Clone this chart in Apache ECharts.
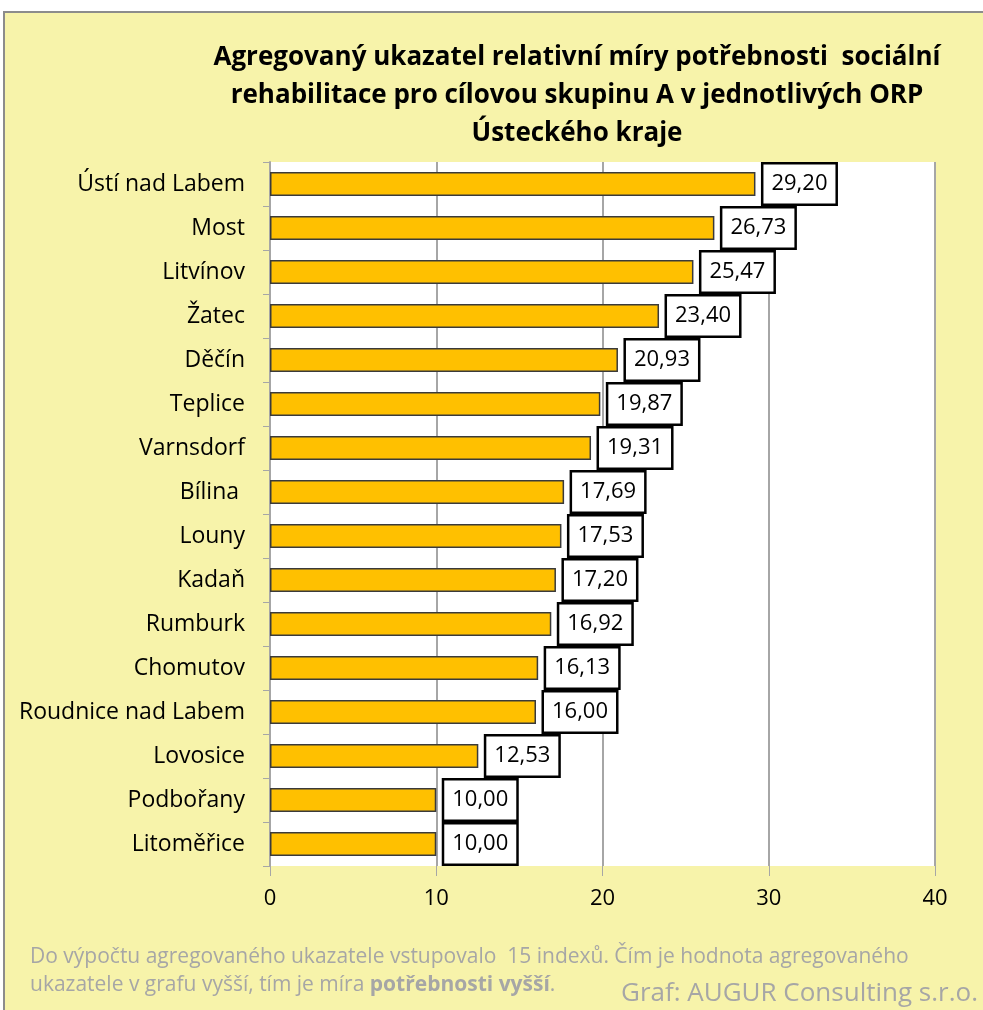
<!DOCTYPE html>
<html>
<head>
<meta charset="utf-8">
<script src="https://cdn.jsdelivr.net/npm/echarts@6/dist/echarts.min.js"></script>
<style>
html,body{margin:0;padding:0;background:#fff;}
#c{width:983px;height:1010px;}
</style>
</head>
<body>
<div id="c"></div>
<script>
const categories = ["Ústí nad Labem","Most","Litvínov","Žatec","Děčín","Teplice","Varnsdorf","Bílina ","Louny","Kadaň","Rumburk","Chomutov","Roudnice nad Labem","Lovosice","Podbořany","Litoměřice"];
const values = [29.20,26.73,25.47,23.40,20.93,19.87,19.31,17.69,17.53,17.20,16.92,16.13,16.00,12.53,10.00,10.00];
const xTicks = [0,10,20,30,40];
const titleText = "Agregovaný ukazatel relativní míry potřebnosti  sociální\nrehabilitace pro cílovou skupinu A v jednotlivých ORP\nÚsteckého kraje";
const noteLine1 = "Do výpočtu agregovaného ukazatele vstupovalo  15 indexů. Čím je hodnota agregovaného";
const noteLine2a = "ukazatele v grafu vyšší, tím je míra ";
const noteLine2b = "potřebnosti vyšší";
const credit = "Graf: AUGUR Consulting s.r.o.";

const FONT = "'Open Sans', Lato, sans-serif";
const chart = echarts.init(document.getElementById('c'), null, {renderer:'canvas'});
chart.setOption({
  backgroundColor: '#ffffff',
  animation: false,
  graphic: [
    {type:'rect', z:-10, shape:{x:4,y:12,width:1100,height:1100}, style:{fill:'#F7F3AA', stroke:'#8c8c8c', lineWidth:2}},
    {type:'text', x:577, y:39, style:{text:titleText, font:"bold 26px "+FONT, fill:'#000', align:'center', verticalAlign:'top', lineHeight:38}},
    {type:'text', x:30, y:943, style:{
      text: noteLine1 + "\n" + noteLine2a + "{b|" + noteLine2b + "}.",
      font:"21px "+FONT, fill:'#A6A6A6', lineHeight:28, verticalAlign:'top',
      rich:{b:{font:"bold 21px "+FONT, fill:'#A6A6A6'}}
    }},
    {type:'text', x:978, y:981, style:{text:credit, font:"26px "+FONT, fill:'#A6A6A6', align:'right', verticalAlign:'top'}}
  ],
  grid: {left:270, right:48, top:162, bottom:144, show:true, backgroundColor:'#ffffff', borderWidth:0, containLabel:false},
  xAxis: {
    type:'value', min:0, max:40, interval:10,
    axisLine:{show:false},
    axisTick:{show:true, length:10, lineStyle:{color:'#A6A6A6', width:1}},
    axisLabel:{color:'#000', fontSize:22, fontFamily:FONT, margin:22,
      formatter: v => xTicks.includes(v) ? String(v) : ''},
    splitLine:{show:true, lineStyle:{color:'#A6A6A6', width:2}}
  },
  yAxis: {
    type:'category', data:categories, inverse:true,
    axisLine:{show:true, lineStyle:{color:'#A6A6A6', width:2}},
    axisTick:{show:true, length:7, lineStyle:{color:'#A6A6A6', width:1}},
    axisLabel:{color:'#000', fontSize:23, fontFamily:FONT, margin:25}
  },
  series: [{
    type:'bar', data:values, barWidth:24,
    itemStyle:{color:'#FFC000', borderColor:'#3a3a3a', borderWidth:1.5},
    label:{show:true, position:'right', distance:8,
      formatter: p => p.value.toFixed(2).replace('.', ','),
      color:'#000', fontSize:22, fontFamily:FONT,
      backgroundColor:'#fff', borderColor:'#000', borderWidth:2.5,
      padding:[6,8,6,8], lineHeight:27}
  }]
});
</script>
</body>
</html>
